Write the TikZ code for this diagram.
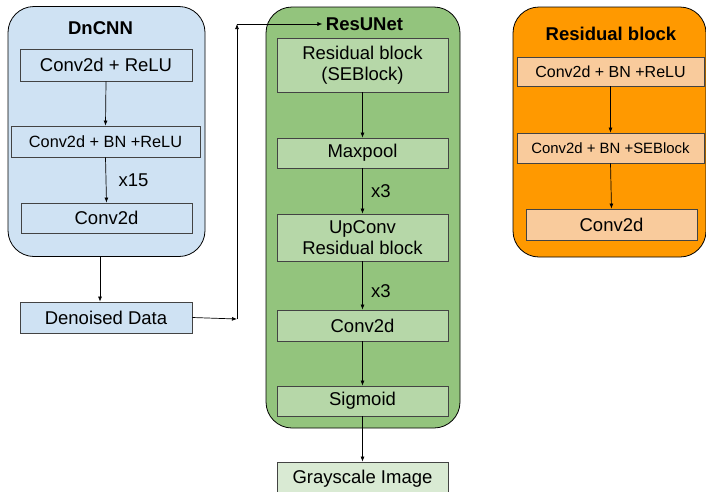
\documentclass[tikz,border=0pt]{standalone}
\usepackage{fontspec}
\setmainfont{Liberation Sans}
\usetikzlibrary{arrows.meta}
\definecolor{dnblue}{HTML}{CFE2F3}
\definecolor{resgreen}{HTML}{93C47D}
\definecolor{blockgreen}{HTML}{B6D7A8}
\definecolor{palegreen}{HTML}{D9EAD3}
\definecolor{resorange}{HTML}{FF9900}
\definecolor{blockorange}{HTML}{F9CB9C}
\definecolor{edgegray}{HTML}{434343}
\begin{document}
\begin{tikzpicture}[
        x=1pt,y=-1pt,
        font=\fontsize{18.5}{21}\selectfont,
        group/.style={draw=black,rounded corners=26pt,line width=0.8pt,inner sep=0pt},
        layer/.style={draw=edgegray,line width=0.8pt,inner sep=0pt,align=center},
        title/.style={font=\fontsize{18.5}{21}\selectfont\bfseries},
        arr/.style={-{Latex[length=5pt,width=4pt]},line width=0.7pt},
        reps/.style={right,xshift=#1},
        ]
    \useasboundingbox (0,0) rectangle (706,491);
    % DnCNN
    \node (dncnn) [group,fill=dnblue,minimum width=197,minimum height=250] at (106.5,131.5) {};
    \node (dntitle) [title] at (100.5,28) {DnCNN};
    \node (c1) [layer,fill=dnblue,minimum width=172,minimum height=32] at (106,65) {Conv2d + ReLU};
    \node (c2) [layer,fill=dnblue,minimum width=189,minimum height=31,
        font=\fontsize{16.3}{19}\selectfont] at (105.5,141.5) {Conv2d + BN +ReLU};
    \node (c3) [layer,fill=dnblue,minimum width=171,minimum height=30] at (106.5,218) {Conv2d};
    \node (den) [layer,fill=dnblue,minimum width=172,minimum height=31] at (106,317.5) {Denoised Data};
    \draw[arr] (c1.south) -- (c2.north);
    \draw[arr] (c2.south) -- node[reps=9pt] {x15} (c3.north);
    \draw[arr] ([xshift=-6.5pt]dncnn.south) -- ([xshift=-6pt]den.north);
    % ResUNet
    \node (resunet) [group,fill=resgreen,minimum width=194,minimum height=421] at (363,217.5) {};
    \node (rutitle) [title] at (364.5,24) {ResUNet};
    \node (r1) [layer,fill=blockgreen,minimum width=171,minimum height=54] at (362.5,65) {Residual block\\(SEBlock)};
    \node (r2) [layer,fill=blockgreen,minimum width=171,minimum height=30] at (362.5,153) {Maxpool};
    \node (r3) [layer,fill=blockgreen,minimum width=171,minimum height=47] at (362.5,237.5) {UpConv\\Residual block};
    \node (r4) [layer,fill=blockgreen,minimum width=171,minimum height=31] at (362.5,325.5) {Conv2d};
    \node (r5) [layer,fill=blockgreen,minimum width=171,minimum height=30] at (362.5,401) {Sigmoid};
    \node (gray) [layer,fill=palegreen,minimum width=171,minimum height=34] at (362.5,479) {Grayscale Image};
    \draw[arr] (r1.south) -- (r2.north);
    \draw[arr] (r2.south) -- node[reps=5pt] {x3} (r3.north);
    \draw[arr] (r3.south) -- node[reps=5pt,pos=0.62] {x3} (r4.north);
    \draw[arr] (r4.south) -- (r5.north);
    \draw[arr] (r5.south) -- (gray.north);
    % denoised data into ResUNet
    \coordinate (t1) at (237,319);
    \coordinate (t2) at (237,24);
    \draw[arr] (den.east) -- (t1);
    \draw[arr] (t1) -- (t2);
    \draw[arr] (t2) -- (rutitle.west);
    % residual block
    \node (resblk) [group,fill=resorange,minimum width=193,minimum height=250] at (609.5,132) {};
    \node (rbtitle) [title] at (611,34) {Residual block};
    \node (b1) [layer,fill=blockorange,minimum width=187,minimum height=29,
        font=\fontsize{16}{19}\selectfont] at (610.5,71.5) {Conv2d + BN +ReLU};
    \node (b2) [layer,fill=blockorange,minimum width=187,minimum height=30,
        font=\fontsize{14.9}{18}\selectfont] at (610.5,148) {Conv2d + BN +SEBlock};
    \node (b3) [layer,fill=blockorange,minimum width=171,minimum height=31] at (611.5,224.5) {Conv2d};
    \draw[arr] (b1.south) -- (b2.north);
    \draw[arr] (b2.south) -- (b3.north);
\end{tikzpicture}
\end{document}
